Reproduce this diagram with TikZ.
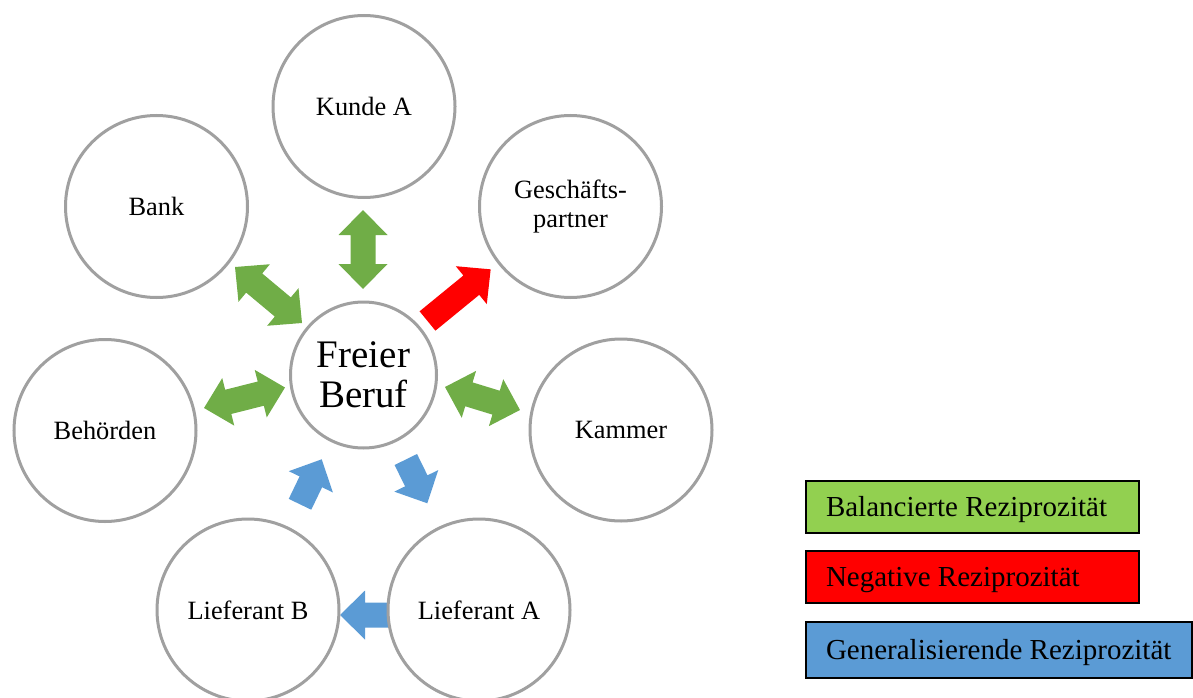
\documentclass[tikz,border=0pt]{standalone}
\usepackage{fontspec}
\setmainfont{Liberation Serif}
\usetikzlibrary{calc}
\definecolor{arrgreen}{HTML}{70AD47}
\definecolor{arrblue}{HTML}{5B9BD5}
\definecolor{arrred}{HTML}{FF0000}
\definecolor{legreen}{HTML}{92D050}
\definecolor{ringgray}{HTML}{A0A0A0}
\newcommand\fatarrow[4]{%
  \path let \p1=(#1), \p2=(#2) in \pgfextra{%
    \pgfmathsetmacro\tmpang{atan2(\y2-\y1,\x2-\x1)}%
    \pgfmathsetmacro\tmplen{veclen(\x2-\x1,\y2-\y1)}%
    \xdef\fang{\tmpang}\xdef\flen{\tmplen}\xdef\fx{\x1}\xdef\fy{\y1}};
  \ifnum#4=1
    \fill[#3, shift={(\fx,\fy)}, rotate=\fang] (0pt,0pt) -- (25pt,24.5pt) -- (25pt,12.5pt) -- ({\flen pt-25pt},12.5pt) -- ({\flen pt-25pt},24.5pt) -- (\flen pt,0pt) -- ({\flen pt-25pt},-24.5pt) -- ({\flen pt-25pt},-12.5pt) -- (25pt,-12.5pt) -- (25pt,-24.5pt) -- cycle;
  \else
    \fill[#3, shift={(\fx,\fy)}, rotate=\fang] (0pt,12.5pt) -- ({\flen pt-25pt},12.5pt) -- ({\flen pt-25pt},24.5pt) -- (\flen pt,0pt) -- ({\flen pt-25pt},-24.5pt) -- ({\flen pt-25pt},-12.5pt) -- (0pt,-12.5pt) -- cycle;
  \fi
}
\begin{document}
\begin{tikzpicture}[x=1pt,y=-1pt,
  ring/.style={circle, draw=ringgray, line width=3pt, fill=white, minimum size=182pt, inner sep=0pt, align=center, font=\fontsize{26.4}{29}\selectfont},
  hub/.style={ring, minimum size=146pt, font=\fontsize{39}{40}\selectfont},
  legbox/.style={rectangle, draw=black, line width=2pt, anchor=north west, minimum height=52pt, inner xsep=20pt, inner ysep=0pt, text height=19.5pt, text depth=0pt, font=\fontsize{29}{32}\selectfont}]
\useasboundingbox (0,0) rectangle (1193,698);
\clip (0,0) rectangle (1193,698);

% arrow end points
\coordinate (ka1) at (363,289);   \coordinate (ka2) at (363,210);
\coordinate (bk1) at (302,323);   \coordinate (bk2) at (235,267);
\coordinate (bh1) at (285,387.5); \coordinate (bh2) at (204,408);
\coordinate (km1) at (445,387);   \coordinate (km2) at (520,410);
\coordinate (gp1) at (427.5,321); \coordinate (gp2) at (490.7,269.3);
\coordinate (lb1) at (300,504.3); \coordinate (lb2) at (321.7,459.3);
\coordinate (la1) at (405.8,459.5); \coordinate (la2) at (427.3,503.3);
\coordinate (ab1) at (388,615);   \coordinate (ab2) at (340,615);

\fatarrow{ka1}{ka2}{arrgreen}{1}
\fatarrow{bk1}{bk2}{arrgreen}{1}
\fatarrow{bh1}{bh2}{arrgreen}{1}
\fatarrow{km1}{km2}{arrgreen}{1}
\fatarrow{gp1}{gp2}{arrred}{0}
\fatarrow{lb1}{lb2}{arrblue}{0}
\fatarrow{la1}{la2}{arrblue}{0}
\fatarrow{ab1}{ab2}{arrblue}{0}

\node[ring] (KA) at (364,106.5) {Kunde A};
\node[ring] (GP) at (570.5,206.5) {Geschäfts-\\partner};
\node[ring] (KM) at (621,430) {Kammer};
\node[ring] (LA) at (479,610) {Lieferant A};
\node[ring] (LB) at (248,610) {Lieferant B};
\node[ring] (BH) at (105,430.5) {Behörden};
\node[ring] (BK) at (156.5,206.5) {Bank};
\node[hub] (FB) at (363.5,375) {Freier\\Beruf};

\node[legbox, fill=legreen] (L1) at (805,480) {\makebox[293pt][l]{Balancierte Reziprozität}};
\node[legbox, fill=arrred] (L2) at (805,549.5) {\makebox[293pt][l]{Negative Reziprozität}};
\node[legbox, fill=arrblue, minimum height=56pt] (L3) at (805,621) {\makebox[346pt][l]{Generalisierende Reziprozität}};
\end{tikzpicture}
\end{document}
